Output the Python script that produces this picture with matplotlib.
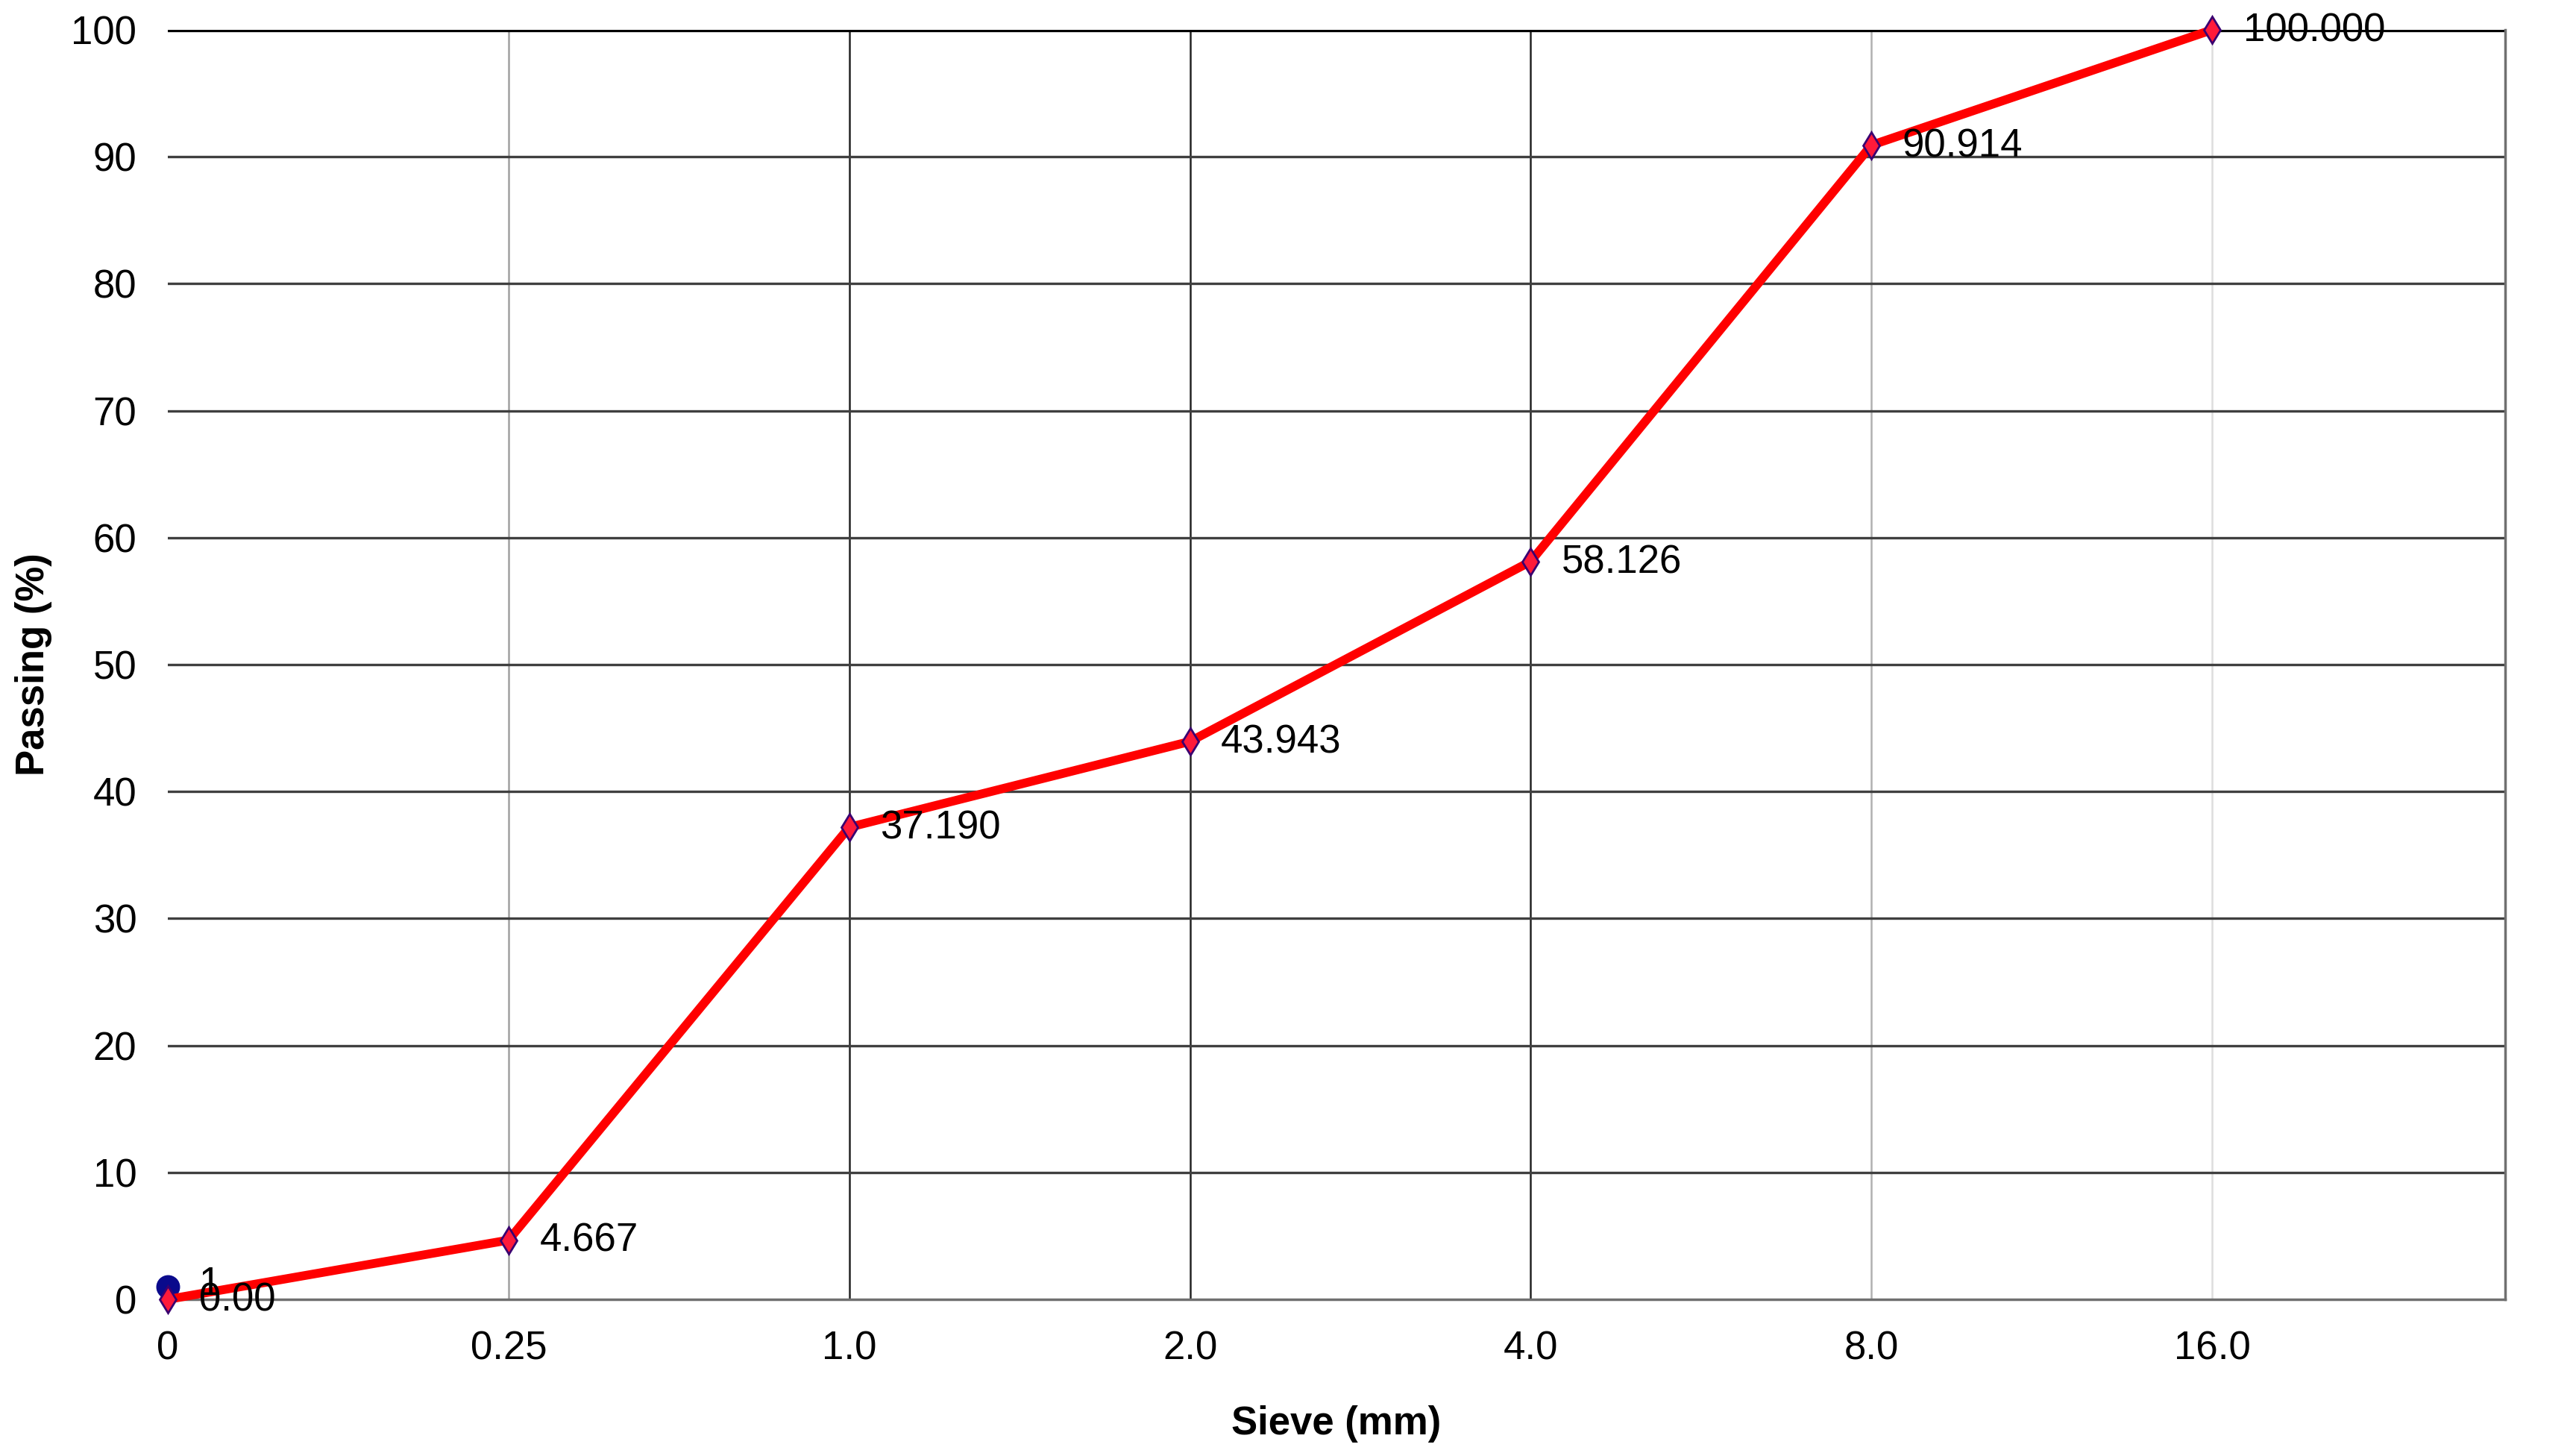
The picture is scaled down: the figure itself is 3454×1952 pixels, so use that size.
import numpy as np
import matplotlib
matplotlib.use("Agg")
import matplotlib.pyplot as plt

plt.rcParams['font.family'] = ['Liberation Sans', 'DejaVu Sans']

# sieve sizes (categorical) and passing percentages
sieves = ["0", "0.25", "1.0", "2.0", "4.0", "8.0", "16.0"]
passing = [0.0, 4.667, 37.190, 43.943, 58.126, 90.914, 100.000]
point_labels = ["0.00", "4.667", "37.190", "43.943", "58.126", "90.914", "100.000"]
# second series: single blue point
extra_x = [0]
extra_y = [1]
extra_labels = ["1"]

fig = plt.figure(figsize=(34.54, 19.52), dpi=100)
ax = fig.add_axes([225 / 3454, 1 - 1742 / 1952, (3359 - 225) / 3454, (1742 - 40) / 1952])

pos = np.arange(len(sieves))

# grid lines - vertical ones differ in shade
vshade = ["none", "#a0a0a0", "#222222", "#222222", "#222222", "#b0b0b0", "#dddddd"]
for p, c in zip(pos, vshade):
    if c != "none":
        ax.axvline(p, color=c, lw=1.8, zorder=1)
for yv in range(10, 100, 10):
    ax.axhline(yv, color="#404040", lw=2.4, zorder=1)
ax.axhline(100, color="black", lw=3.8, zorder=1)

ax.plot(pos, passing, color="#ff0000", lw=8.5, zorder=3, clip_on=False)
ax.plot(pos, passing, ls="none", marker="d", ms=18, mfc="#ff1a3a",
        mec="#3a0070", mew=2, zorder=4, clip_on=False)
ax.plot(extra_x, extra_y, ls="none", marker="o", ms=22, color="#0a0a8c",
        zorder=2, clip_on=False)

for p, v, t in zip(pos, passing, point_labels):
    ax.annotate(t, (p, v), xytext=(30, -1), textcoords="offset points",
                va="center", ha="left", fontsize=38, zorder=5)
for p, v, t in zip(extra_x, extra_y, extra_labels):
    ax.annotate(t, (p, v), xytext=(30, 2), textcoords="offset points",
                va="center", ha="left", fontsize=38, zorder=5)

ax.set_xlim(0, 6.86)
ax.set_ylim(0, 100)
ax.set_xticks(pos)
ax.set_xticklabels(sieves)
ax.set_yticks(range(0, 101, 10))
ax.tick_params(axis="both", length=0, labelsize=38)
ax.tick_params(axis="y", pad=30)
ax.tick_params(axis="x", pad=30)

for s in ["left", "top"]:
    ax.spines[s].set_visible(False)
ax.spines["bottom"].set_color("#707070")
ax.spines["bottom"].set_linewidth(2.5)
ax.spines["right"].set_color("#707070")
ax.spines["right"].set_linewidth(2.5)

ax.set_xlabel("Sieve (mm)", fontsize=38, fontweight="bold", labelpad=36)
ax.set_ylabel("Passing (%)", fontsize=38, fontweight="bold", labelpad=18)

fig.savefig("out.png", dpi=100, facecolor="white")
